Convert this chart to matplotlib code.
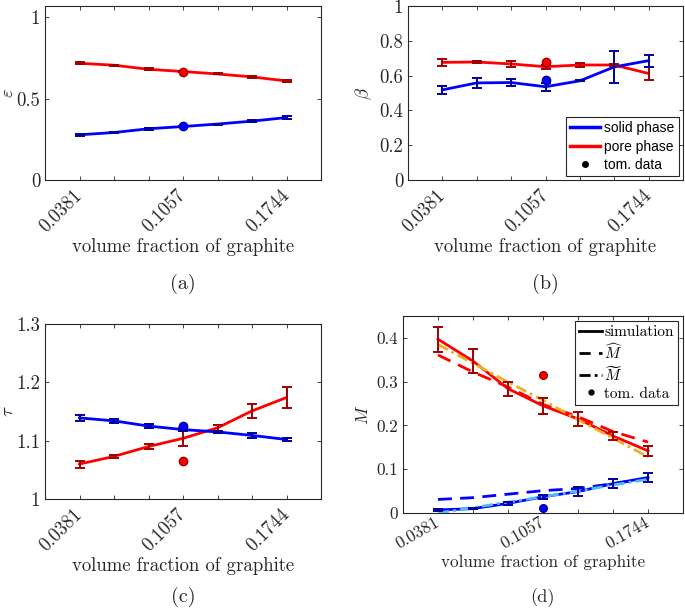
import numpy as np
import matplotlib
matplotlib.use('Agg')
import matplotlib.pyplot as plt
from matplotlib.lines import Line2D

plt.rcParams['font.family'] = 'serif'
plt.rcParams['font.serif'] = ['cmr10']
plt.rcParams['mathtext.fontset'] = 'cm'
plt.rcParams['axes.formatter.use_mathtext'] = True

# sample index along x, labelled with the graphite volume fraction
x = np.arange(1, 8)
xlabels = ['0.0381', '', '', '0.1057', '', '', '0.1744']

# (a) porosity epsilon
eps_pore = [0.718, 0.706, 0.681, 0.667, 0.652, 0.634, 0.609]
eps_pore_err = [0.006, 0.004, 0.005, 0.005, 0.003, 0.004, 0.008]
eps_solid = [0.278, 0.292, 0.315, 0.329, 0.344, 0.362, 0.384]
eps_solid_err = [0.006, 0.004, 0.005, 0.005, 0.003, 0.004, 0.008]
eps_tom = [0.330, 0.667]          # solid, pore

# (b) constrictivity beta
beta_pore = [0.676, 0.678, 0.667, 0.651, 0.661, 0.661, 0.612]
beta_pore_err = [0.018, 0.007, 0.018, 0.012, 0.010, 0.006, 0.038]
beta_solid = [0.518, 0.558, 0.560, 0.536, 0.570, 0.650, 0.686]
beta_solid_err = [0.024, 0.030, 0.021, 0.024, 0.003, 0.090, 0.035]
beta_tom = [0.572, 0.676]

# (c) tortuosity tau
tau_pore = [1.060, 1.073, 1.090, 1.104, 1.122, 1.151, 1.174]
tau_pore_err = [0.006, 0.002, 0.005, 0.013, 0.005, 0.012, 0.018]
tau_solid = [1.139, 1.134, 1.125, 1.119, 1.115, 1.109, 1.102]
tau_solid_err = [0.005, 0.003, 0.004, 0.003, 0.002, 0.004, 0.002]
tau_tom = [1.126, 1.066]

# (d) M: simulation, M-hat, M-tilde
M_pore = [0.397, 0.347, 0.284, 0.245, 0.215, 0.176, 0.142]
M_pore_err = [0.029, 0.027, 0.016, 0.018, 0.016, 0.010, 0.011]
Mhat_pore = [0.361, 0.322, 0.288, 0.248, 0.220, 0.186, 0.162]
Mtil_pore = [0.385, 0.342, 0.299, 0.258, 0.213, 0.171, 0.128]
M_solid = [0.007, 0.010, 0.022, 0.037, 0.049, 0.067, 0.081]
M_solid_err = [0.003, 0.002, 0.004, 0.004, 0.010, 0.010, 0.010]
Mhat_solid = [0.031, 0.035, 0.043, 0.051, 0.056, 0.067, 0.079]
Mtil_solid = [0.000, 0.012, 0.025, 0.037, 0.050, 0.064, 0.077]
M_tom = [0.011, 0.316]

blue, red = '#0000ff', '#ff0000'
dblue, dred = '#00009a', '#a00000'
gray = '#262626'

W, H = 685, 612
fig = plt.figure(figsize=(W / 100, H / 100), dpi=100)


def mkax(l, r, t, b):
    return fig.add_axes([l / W, 1 - b / H, (r - l) / W, (b - t) / H])


def style(ax, rot, cap, fs, pad, ylx):
    ax.set_xlim(0, 8)
    ax.set_xticks(x)
    ax.set_xticklabels(xlabels, rotation=rot, ha='right', va='center',
                       rotation_mode='anchor')
    ax.tick_params(direction='in', top=True, right=True, length=3,
                   labelsize=fs, colors=gray, width=0.6)
    ax.tick_params(axis='x', pad=pad)
    for s in ax.spines.values():
        s.set_color(gray)
        s.set_linewidth(0.8)
    ax.set_xlabel('volume fraction of graphite', fontsize=fs, color=gray,
                  labelpad=2)
    if ylx is not None:
        ax.yaxis.set_label_coords(ylx, 0.5)
    ax.text(0.5, cap, ax.get_label(), transform=ax.transAxes, ha='center',
            va='center', fontsize=fs + 1, color=gray)


def draw(ax, ys, es, col, dcol):
    ax.plot(x, ys, color=col, lw=2, zorder=3)
    ax.errorbar(x, ys, yerr=es, fmt='none', ecolor=dcol, elinewidth=1.4,
                capsize=3.6, capthick=1.4, zorder=4)


def tom(ax, vals, ms=6):
    ax.plot(4, vals[0], 'o', color=blue, mec=dblue, ms=ms, zorder=5)
    ax.plot(4, vals[1], 'o', color=red, mec=dred, ms=ms, zorder=5)


# (a)
ax = mkax(45, 321, 6, 180)
ax.set_label('(a)')
draw(ax, eps_pore, eps_pore_err, red, dred)
draw(ax, eps_solid, eps_solid_err, blue, dblue)
tom(ax, eps_tom)
ax.set_ylim(0, 1.07)
ax.set_yticks([0, 0.5, 1])
ax.set_yticklabels(['0', '0.5', '1'])
ax.set_ylabel(r'$\varepsilon$', fontsize=13.5, color=gray)
style(ax, 45, -0.6, 13.5, 9, -0.1)

# (b)
ax = mkax(408, 683, 6, 180)
ax.set_label('(b)')
draw(ax, beta_pore, beta_pore_err, red, dred)
draw(ax, beta_solid, beta_solid_err, blue, dblue)
tom(ax, beta_tom)
ax.set_ylim(0, 1)
ax.set_yticks([0, 0.2, 0.4, 0.6, 0.8, 1])
ax.set_yticklabels(['0', '0.2', '0.4', '0.6', '0.8', '1'])
ax.set_ylabel(r'$\beta$', fontsize=13.5, color=gray)
style(ax, 45, -0.6, 13.5, 9, None)
hb = [Line2D([], [], color=blue, lw=2.5), Line2D([], [], color=red, lw=2.5),
      Line2D([], [], ls='none', marker='o', color='k', ms=4)]
leg = ax.legend(hb, ['solid phase', 'pore phase', 'tom. data'], loc='lower right',
                prop={'family': 'Liberation Sans', 'size': 10}, fancybox=False,
                framealpha=1, edgecolor=gray, borderaxespad=0.3, handlelength=2.2,
                handletextpad=0.3, borderpad=0.3, labelspacing=0.3)
leg.get_frame().set_linewidth(0.8)

# (c)
ax = mkax(45, 321, 324, 499)
ax.set_label('(c)')
draw(ax, tau_pore, tau_pore_err, red, dred)
draw(ax, tau_solid, tau_solid_err, blue, dblue)
tom(ax, tau_tom)
ax.set_ylim(1, 1.3)
ax.set_yticks([1, 1.1, 1.2, 1.3])
ax.set_yticklabels(['1', '1.1', '1.2', '1.3'])
ax.set_ylabel(r'$\tau$', fontsize=13.5, color=gray)
style(ax, 45, -0.56, 13.5, 9, -0.1)

# (d)
ax = mkax(403, 683, 316, 513)
ax.set_label('(d)')
ax.plot(x, Mhat_pore, color=red, lw=2, ls=(0, (5, 3)), zorder=3)
draw(ax, M_pore, M_pore_err, red, dred)
ax.plot(x, Mtil_pore, color='#edb120', lw=2, ls=(0, (4, 1.5, 1, 1.5)), zorder=3.5)
ax.plot(x, Mhat_solid, color=blue, lw=2, ls=(0, (5, 3)), zorder=3)
draw(ax, M_solid, M_solid_err, blue, dblue)
ax.plot(x, Mtil_solid, color='#4dbeee', lw=2, ls=(0, (4, 1.5, 1, 1.5)), zorder=3.5)
tom(ax, M_tom, ms=5.5)
ax.set_ylim(0, 0.45)
ax.set_yticks([0, 0.1, 0.2, 0.3, 0.4])
ax.set_yticklabels(['0', '0.1', '0.2', '0.3', '0.4'])
ax.set_ylabel(r'$M$', fontsize=12.5, color=gray)
style(ax, 30, -0.43, 12.3, 6, None)
hd = [Line2D([], [], color='k', lw=2), Line2D([], [], color='k', lw=2, ls=(0, (4, 3))),
      Line2D([], [], color='k', lw=2, ls=(0, (4, 1.5, 1, 1.5))),
      Line2D([], [], ls='none', marker='o', color='k', ms=3.5)]
leg = ax.legend(hd, ['simulation', r'$\widehat{M}$', r'$\widetilde{M}$', 'tom. data'],
                loc='upper right', fontsize=11, fancybox=False, framealpha=1,
                edgecolor=gray, borderaxespad=0.3, handlelength=1.5,
                handletextpad=0.15, borderpad=0.3, labelspacing=0.2)
leg.get_frame().set_linewidth(0.8)

fig.savefig('out.png', dpi=100)
